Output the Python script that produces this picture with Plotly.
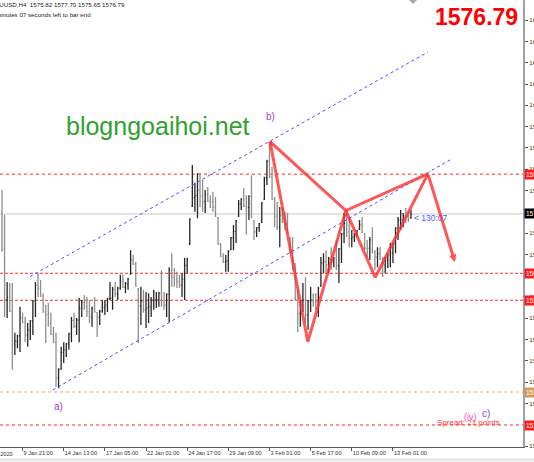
import plotly.graph_objects as go

# ---------------- data (XAUUSD H4) ----------------
bar_index = list(range(160))
open_ = [1577.0,1568.5,1556.6,1557.2,1554.0,1546.3,1546.9,1548.2,1552.4,1551.4,
1548.4,1549.6,1551.7,1556.4,1560.1,1559.3,1557.5,1553.8,1553.1,1551.0,
1548.6,1546.7,1538.3,1540.4,1544.3,1544.9,1546.3,1548.6,1551.8,1550.4,
1551.9,1554.6,1556.0,1555.0,1553.9,1552.6,1554.7,1553.6,1552.5,1554.0,
1554.8,1555.4,1556.9,1557.0,1559.1,1558.1,1559.4,1560.9,1559.6,1560.4,
1562.7,1566.0,1565.0,1559.2,1555.2,1556.3,1554.3,1554.7,1555.0,1556.6,
1556.6,1556.7,1558.2,1556.4,1555.4,1557.9,1563.6,1561.9,1561.3,1560.9,
1560.1,1561.5,1564.7,1569.8,1578.7,1580.7,1581.1,1582.4,1581.0,1579.7,
1581.4,1579.8,1579.6,1578.4,1575.9,1569.7,1566.9,1565.5,1565.8,1568.5,
1571.2,1572.7,1576.3,1579.1,1580.3,1578.6,1578.3,1580.9,1575.2,1572.6,
1573.6,1574.9,1580.3,1585.3,1589.2,1585.5,1580.3,1576.3,1573.7,1576.4,
1575.1,1574.7,1571.2,1567.8,1563.9,1556.8,1553.4,1556.4,1556.6,1553.1,
1556.4,1556.6,1556.2,1556.1,1559.9,1565.3,1565.6,1564.8,1566.3,1565.5,
1566.5,1564.7,1568.6,1572.1,1574.6,1572.6,1571.0,1571.3,1572.2,1573.2,
1574.2,1572.1,1568.7,1568.7,1570.7,1567.8,1566.7,1567.5,1566.2,1564.8,
1565.9,1567.2,1567.6,1569.8,1573.4,1575.4,1575.4,1576.4,1576.1,1575.82]
high = [1582.4,1576.6,1560.8,1560.6,1560.6,1548.9,1548.4,1555.0,1553.6,1552.6,
1551.2,1551.9,1556.6,1560.8,1562.9,1561.3,1558.2,1555.4,1555.9,1553.6,
1550.3,1548.9,1540.6,1545.6,1546.7,1546.5,1548.9,1552.6,1553.6,1552.4,
1557.1,1556.6,1557.8,1557.3,1556.6,1555.0,1557.3,1553.8,1554.3,1556.6,
1556.6,1557.1,1560.8,1559.7,1560.8,1559.7,1562.5,1562.5,1560.8,1561.8,
1568.3,1567.2,1565.5,1559.4,1559.7,1559.0,1558.5,1558.2,1557.3,1559.0,
1558.5,1558.5,1563.6,1558.5,1558.2,1564.3,1567.6,1564.1,1563.2,1562.5,
1562.9,1566.5,1566.5,1575.8,1588.3,1584.1,1586.4,1586.4,1584.8,1582.4,
1583.1,1581.2,1582.0,1580.8,1576.1,1570.0,1567.6,1567.2,1568.3,1571.4,
1574.2,1575.4,1580.1,1580.5,1582.9,1581.2,1581.2,1585.9,1575.4,1573.7,
1574.7,1579.6,1585.5,1589.5,1593.7,1587.8,1580.8,1579.6,1578.4,1578.2,
1577.3,1577.0,1571.4,1571.4,1565.3,1559.0,1556.6,1560.6,1562.0,1556.6,
1559.7,1558.2,1558.2,1559.7,1566.7,1567.6,1568.3,1566.7,1569.0,1566.7,
1570.7,1568.8,1572.3,1577.0,1577.7,1576.1,1573.0,1572.3,1573.0,1575.4,
1576.1,1572.3,1570.7,1571.4,1573.7,1568.3,1569.0,1569.0,1566.7,1566.7,
1567.6,1570.0,1570.0,1573.7,1576.1,1577.7,1577.0,1578.2,1577.3,1577.70]
low = [1567.9,1552.6,1552.4,1553.8,1540.2,1543.7,1545.3,1544.4,1551.2,1546.7,
1545.6,1547.2,1548.4,1552.6,1557.3,1557.3,1553.6,1546.5,1550.3,1548.4,
1546.5,1536.2,1535.9,1540.2,1541.8,1543.2,1544.9,1546.7,1550.0,1548.4,
1546.7,1552.6,1554.3,1552.6,1551.2,1550.3,1553.6,1547.9,1550.7,1553.6,
1553.1,1553.8,1556.6,1554.3,1557.3,1556.6,1559.0,1559.4,1558.2,1559.0,
1562.5,1564.8,1559.7,1546.5,1550.7,1553.6,1550.0,1551.2,1552.6,1554.3,
1554.7,1555.0,1555.0,1554.3,1552.6,1551.4,1559.7,1559.7,1559.4,1559.4,
1557.3,1556.6,1562.9,1569.5,1578.4,1577.3,1575.8,1578.4,1577.3,1577.0,
1579.6,1578.2,1577.3,1576.1,1569.5,1566.7,1565.3,1563.2,1563.2,1568.3,
1568.3,1570.0,1576.1,1577.7,1578.4,1571.9,1575.4,1575.8,1570.7,1571.4,
1572.6,1574.7,1580.1,1583.6,1585.2,1580.1,1573.7,1573.0,1569.0,1574.7,
1573.0,1572.3,1567.6,1563.6,1556.6,1549.1,1550.3,1553.8,1551.2,1549.6,
1553.8,1555.0,1554.3,1552.6,1559.7,1562.9,1562.9,1562.9,1563.6,1564.3,
1563.6,1560.6,1565.3,1570.0,1571.4,1569.0,1569.0,1570.2,1571.4,1573.0,
1572.3,1568.3,1566.7,1566.0,1567.6,1563.6,1564.3,1566.0,1562.0,1562.9,
1564.1,1564.3,1565.3,1567.6,1570.7,1573.0,1573.7,1574.7,1574.9,1575.65]
close = [1568.5,1556.6,1557.2,1554.0,1546.3,1546.9,1548.2,1552.4,1551.4,1548.4,
1549.6,1551.7,1556.4,1560.1,1559.3,1557.5,1553.8,1553.1,1551.0,1548.6,
1546.7,1538.3,1540.4,1544.3,1544.9,1546.3,1548.6,1551.8,1550.4,1551.9,
1554.6,1556.0,1555.0,1553.9,1552.6,1554.7,1553.8,1552.5,1554.0,1554.8,
1555.4,1556.9,1557.0,1559.1,1558.1,1559.4,1560.9,1559.6,1560.4,1561.5,
1566.0,1565.0,1559.9,1555.2,1556.3,1554.3,1554.7,1555.0,1556.6,1556.6,
1556.7,1558.2,1556.4,1555.4,1557.9,1563.6,1561.9,1561.3,1560.9,1560.1,
1561.5,1564.7,1566.2,1575.6,1580.7,1581.1,1582.4,1581.0,1579.7,1581.4,
1579.8,1579.6,1578.4,1576.3,1569.7,1566.9,1565.5,1565.8,1568.1,1571.2,
1572.7,1575.2,1579.1,1580.3,1578.6,1578.3,1580.9,1576.0,1572.6,1573.6,
1574.5,1579.4,1585.3,1589.2,1585.5,1580.3,1576.3,1573.7,1576.4,1575.1,
1574.7,1572.5,1567.8,1563.9,1556.8,1553.4,1556.4,1556.6,1553.1,1556.4,
1556.6,1556.2,1556.1,1559.4,1565.3,1565.6,1564.8,1566.3,1565.5,1566.5,
1564.7,1568.6,1572.1,1574.6,1572.6,1571.0,1571.3,1572.2,1572.9,1574.2,
1572.5,1568.7,1568.7,1570.7,1567.8,1566.7,1567.5,1566.2,1564.8,1565.9,
1567.2,1567.6,1569.8,1573.4,1575.4,1575.4,1576.4,1576.1,1575.8,1576.79]

time_tick_index = [8, 24, 40, 56, 72, 88, 104, 120, 136, 152]
time_tick_text = ["9 Jan 21:00", "14 Jan 13:00", "17 Jan 05:00", "22 Jan 01:00",
                  "24 Jan 17:00", "29 Jan 09:00", "3 Feb 01:00", "5 Feb 17:00",
                  "10 Feb 09:00", "13 Feb 01:00"]
first_time_label = "7 Jan 2020"

price_ticks = [1622.30, 1617.30, 1612.30, 1607.30, 1602.30, 1597.30, 1592.30,
               1587.30, 1582.30, 1577.30, 1572.30, 1567.30, 1562.30, 1557.30,
               1552.30, 1547.30, 1542.30, 1537.30, 1532.30, 1527.30, 1522.30]

last_price = 1576.79
resistance_top = 1586.10
support_1 = 1562.87
support_2 = 1556.53
orange_level = 1535.00
bottom_level = 1527.25

channel_upper_x = [10.9, 165.6]
channel_upper_y = [1562.1, 1614.8]
channel_lower_x = [19.8, 174.2]
channel_lower_y = [1535.5, 1589.5]

pattern_x = [104.2, 118.9, 133.7, 145.1, 165.6]
pattern_y = [1593.8, 1546.8, 1577.6, 1561.9, 1586.2]
pattern_link_x = [104.2, 133.7, 165.6]
pattern_link_y = [1593.8, 1577.6, 1586.2]
arrow_end_x, arrow_end_y = 176.1, 1565.5

X_RANGE = [-0.778, 202.57]
Y_RANGE = [1522.09, 1627.02]
PW, PH = 523.0, 447.0   # plot area in px

def px_x(p):
    return p / PW

def px_y(p):
    return (PH - p) / PH

FONT = "Liberation Sans"
RED_LINE = "rgba(255,45,45,0.8)"

fig = go.Figure()

fig.add_trace(go.Ohlc(
    x=bar_index, open=open_, high=high, low=low, close=close,
    increasing=dict(line=dict(color="#262626", width=1.3)),
    decreasing=dict(line=dict(color="#8e8e8e", width=1.3)),
    tickwidth=0.35, hoverinfo="skip", showlegend=False))

for xs, ys in [(channel_upper_x, channel_upper_y), (channel_lower_x, channel_lower_y)]:
    fig.add_trace(go.Scatter(x=xs, y=ys, mode="lines",
                             line=dict(color="#4b4bff", width=1, dash="dot"),
                             hoverinfo="skip", showlegend=False))

fig.add_trace(go.Scatter(x=pattern_x, y=pattern_y, mode="lines",
                         line=dict(color=RED_LINE, width=3), hoverinfo="skip",
                         showlegend=False))
fig.add_trace(go.Scatter(x=pattern_link_x, y=pattern_link_y, mode="lines",
                         line=dict(color=RED_LINE, width=3), hoverinfo="skip",
                         showlegend=False))

shapes = []
def hline(level, color, dash, width=1):
    shapes.append(dict(type="line", xref="paper", x0=0, x1=1, yref="y",
                       y0=level, y1=level, line=dict(color=color, width=width, dash=dash),
                       layer="below"))

hline(resistance_top, "#ff6f6f", "dot", 1.6)
hline(last_price, "#c9c9c9", "solid", 1)
hline(support_1, "#ff2a2a", "3px,2px", 1)
hline(support_2, "#ff2a2a", "3px,2px", 1)
hline(orange_level, "#e7a765", "dot", 1.2)
hline(bottom_level, "#ff6f6f", "dot", 1.6)

# MT4 chart shift marker
shapes.append(dict(type="path", xref="paper", yref="paper",
                   path=f"M {px_x(409)},{px_y(0)} L {px_x(417)},{px_y(0)} L {px_x(413)},{px_y(4)} Z",
                   fillcolor="#a8a8a8", line=dict(width=0)))
# bottom window strip
shapes.append(dict(type="rect", xref="paper", yref="paper", x0=-0.01, x1=1.05,
                   y0=px_y(462), y1=px_y(458), fillcolor="#ececec", line=dict(width=0)))

ann = []
# header texts
ann.append(dict(xref="paper", yref="paper", x=px_x(-11), y=px_y(5), xanchor="left",
                yanchor="middle", showarrow=False,
                text="XAUUSD,H4  1575.82 1577.70 1575.65 1576.79",
                font=dict(family=FONT, size=6.2, color="#222")))
ann.append(dict(xref="paper", yref="paper", x=px_x(-18.5), y=px_y(15), xanchor="left",
                yanchor="middle", showarrow=False,
                text="130 minutes 07 seconds left to bar end",
                font=dict(family=FONT, size=6.2, color="#222")))
# big price
ann.append(dict(xref="paper", yref="paper", x=px_x(476), y=px_y(17), xanchor="center",
                yanchor="middle", showarrow=False, text="1576.79",
                font=dict(family=FONT, size=23, color="#ff0000", weight="bold")))
# watermark
ann.append(dict(xref="paper", yref="paper", x=px_x(64), y=px_y(126), xanchor="left",
                yanchor="middle", showarrow=False, text="blogngoaihoi.net",
                font=dict(family=FONT, size=25, color="#2fa12f")))
# wave labels
ann.append(dict(x=104.2, y=1599.6, text="b)", showarrow=False,
                font=dict(family=FONT, size=10, color="#a040c8")))
ann.append(dict(x=21.8, y=1531.5, text="a)", showarrow=False,
                font=dict(family=FONT, size=10, color="#a040c8")))
ann.append(dict(x=182.3, y=1529.1, text="(iv)", showarrow=False,
                font=dict(family=FONT, size=9, color="#ff3fc8")))
ann.append(dict(x=188.0, y=1530.0, text="c)", showarrow=False,
                font=dict(family=FONT, size=10, color="#a040c8")))
ann.append(dict(x=181.2, y=1527.9, text="Spread: 21 points", showarrow=False,
                font=dict(family=FONT, size=8, color="#ff3030")))
ann.append(dict(x=159.4, y=1575.85, xanchor="left", text="< 130:07", showarrow=False,
                font=dict(family=FONT, size=8.5, color="#4a5cff")))
# arrow
ann.append(dict(x=arrow_end_x, y=arrow_end_y, ax=165.6, ay=1586.2, axref="x", ayref="y",
                text="", showarrow=True, arrowhead=2, arrowsize=0.5, arrowwidth=3,
                arrowcolor=RED_LINE))
# off-range first time label
ann.append(dict(xref="paper", yref="paper", x=px_x(-17.5), y=px_y(454), xanchor="left",
                yanchor="middle", showarrow=False, text=first_time_label,
                font=dict(family=FONT, size=5.6, color="#333")))
# price labels on axis
for lvl, col in [(resistance_top, "#ff1a1a"), (last_price, "#000000"),
                 (support_1, "#ff1a1a"), (support_2, "#ff1a1a"),
                 (orange_level, "#d49a5c"), (bottom_level, "#ff1a1a")]:
    ann.append(dict(xref="paper", yref="y", x=px_x(524), y=lvl, xanchor="left",
                    yanchor="middle", showarrow=False, text=f"{lvl:.2f}",
                    bgcolor=col, borderpad=1,
                    font=dict(family=FONT, size=6.5, color="#ffffff")))

fig.update_layout(
    width=534, height=462,
    margin=dict(l=0, r=11, t=0, b=15, autoexpand=False),
    paper_bgcolor="white", plot_bgcolor="white", showlegend=False,
    shapes=shapes, annotations=ann,
    xaxis=dict(range=X_RANGE, showgrid=False, zeroline=False, showline=True,
               linecolor="#5a5a5a", linewidth=1, ticks="outside", ticklen=3,
               tickcolor="#5a5a5a", tickvals=time_tick_index, ticktext=time_tick_text,
               ticklabelposition="outside right", tickangle=0, automargin=False,
               tickfont=dict(family=FONT, size=5.6, color="#333"),
               rangeslider=dict(visible=False), fixedrange=True),
    yaxis=dict(range=Y_RANGE, side="right", showgrid=False, zeroline=False,
               showline=True, linecolor="#a0a0a0", linewidth=2, ticks="outside",
               ticklen=3, tickcolor="#555", tickvals=price_ticks, automargin=False,
               ticktext=[f"{v:.2f}" for v in price_ticks],
               tickfont=dict(family=FONT, size=6.2, color="#333"), fixedrange=True),
)

fig.write_html("out.html", config={"displayModeBar": False},
               post_script="document.body.style.margin='0';document.body.style.overflow='hidden';")
